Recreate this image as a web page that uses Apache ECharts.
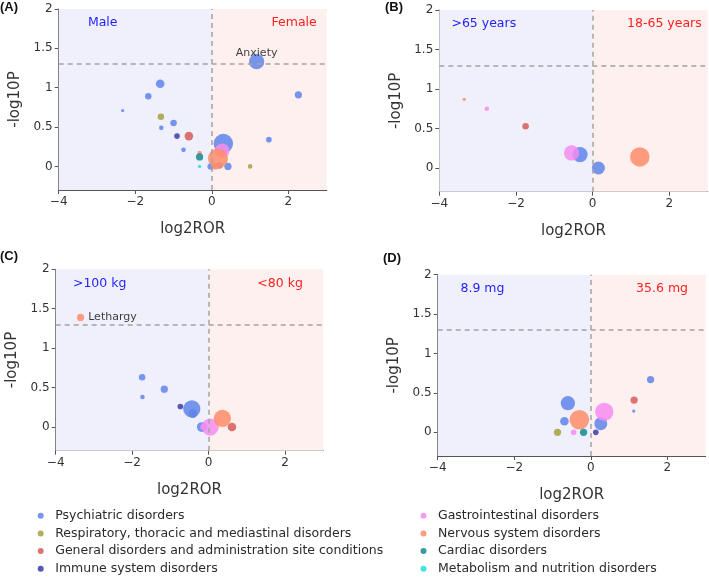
<!DOCTYPE html>
<html>
<head>
<meta charset="utf-8">
<script src="https://cdn.jsdelivr.net/npm/echarts@6/dist/echarts.min.js"></script>
<style>html,body{margin:0;padding:0;background:#fff}#c{width:709px;height:579px}</style>
</head>
<body>
<div id="c"></div>
<script>
// ---- data ----
const categories = ['Psychiatric disorders','Respiratory, thoracic and mediastinal disorders','General disorders and administration site conditions','Immune system disorders','Gastrointestinal disorders','Nervous system disorders','Cardiac disorders','Metabolism and nutrition disorders'];
const panelTags = ['(A)','(B)','(C)','(D)'];
const groupLeft = ['Male','>65 years','>100 kg','8.9 mg'];
const groupRight = ['Female','18-65 years','<80 kg','35.6 mg'];
const xTicks = [-4,-2,0,2];
const yTicks = [0,0.5,1,1.5,2];
const pThreshold = 1.301;

// Panel A (sex)
const aX   = [1.17,-1.35,-1.66,2.26,-2.33,-1.33,-1.00,-1.32,-0.91,-0.60,1.49,-0.74,-0.32,-0.32,-0.32,0.30,0.27,0.16,-0.03,0.20,0.09,0.42,1.00];
const aY   = [1.33,1.05,0.89,0.91,0.71,0.63,0.55,0.49,0.385,0.385,0.34,0.21,0.17,0.12,0.00,0.29,0.20,0.10,0.00,0.01,0.00,0.00,0.00];
const aN   = [22,7,4,5,1,4,4,2,3,7,3,2,2,5,1,36,20,38,4,4,4,5,2];
const aCat = [0,0,0,0,0,1,0,0,3,2,0,0,5,6,7,0,4,5,0,0,5,0,1];
const aLabel = ['Anxiety','','','','','','','','','','','','','','','','','','','','','',''];
// Panel B (age)
const bX   = [-3.35,-2.76,-1.75,-0.55,-0.33,0.15,1.23];
const bY   = [0.87,0.75,0.53,0.19,0.17,0.00,0.14];
const bN   = [1,2,4,22,22,16,36];
const bCat = [5,4,2,4,0,0,5];
const bLabel = ['','','','','','',''];
// Panel C (weight)
const cX   = [-3.35,-1.74,-1.16,-1.73,-0.74,-0.44,-0.41,-0.18,-0.15,0.04,0.36,0.61];
const cY   = [1.39,0.63,0.48,0.38,0.26,0.23,0.17,0.00,0.00,0.00,0.11,0.00];
const cN   = [5,4,5,2,3,28,7,9,3,28,28,7];
const cCat = [5,0,0,0,3,0,0,0,4,4,5,2];
const cLabel = ['Lethargy','','','','','','','','','','',''];
// Panel D (dose)
const dX   = [1.56,1.13,1.12,0.35,0.26,0.13,-0.19,-0.45,-0.87,-0.30,-0.60,-0.69];
const dY   = [0.67,0.41,0.27,0.26,0.11,0.00,0.00,0.00,0.00,0.16,0.37,0.14];
const dN   = [5,5,1,32,16,3,5,3,5,36,19,7];
const dCat = [0,2,0,4,0,3,6,4,1,5,0,0];
const dLabel = ['','','','','','','','','','','',''];

const panels = [
  {x:aX,y:aY,n:aN,cat:aCat,label:aLabel},
  {x:bX,y:bY,n:bN,cat:bCat,label:bLabel},
  {x:cX,y:cY,n:cN,cat:cCat,label:cLabel},
  {x:dX,y:dY,n:dN,cat:dCat,label:dLabel}
];

// ---- styles / layout ----
const colors = ['#5f84ea','#a6a23c','#d65c5c','#3c3ca8','#f48cf0','#ff8c69','#14898f','#22dede'];
const FONT = 'DejaVu Sans';
const grids = [
  {left:58.7, top:9, width:268, height:181},
  {left:439.3, top:10, width:268.4, height:181.7},
  {left:55.7, top:269.3, width:267.6, height:181.4},
  {left:437.7, top:274.7, width:268, height:181.3}
];
const tagPos = [[0,1],[385,1],[0,250],[383,252]];
const groupPosL = [-2.85,-2.84,-2.85,-2.83];
const groupPosR = [2.15,1.87,1.87,1.86];
const groupPosY = 1.82;
const labelStyles = [
  {position:'inside', offset:[0,-9], color:'#1a1a1a', fontSize:11, fontFamily:FONT, textBorderWidth:0},
  null,
  {position:'right', distance:4, color:'#1a1a1a', fontSize:11, fontFamily:FONT, textBorderWidth:0},
  null
];
const fmt = v => v < 0 ? '\u2212' + Math.abs(v) : String(v);

const option = {
  animation:false,
  backgroundColor:'#fff',
  grid: grids.map(g => Object.assign({containLabel:false, outerBoundsMode:'none'}, g)),
  xAxis: grids.map((g,i) => ({
    gridIndex:i, type:'value', min:-4, max:3,
    name:'log2ROR', nameLocation:'middle', nameGap:32,
    nameTextStyle:{fontSize:15, color:'#333', fontFamily:FONT},
    axisLine:{onZero:false, lineStyle:{color:'#555'}},
    axisTick:{length:4, customValues:xTicks, lineStyle:{color:'#555'}},
    axisLabel:{customValues:xTicks, formatter:fmt, fontSize:12, color:'#333', fontFamily:FONT, margin:6},
    splitLine:{show:false}
  })),
  yAxis: grids.map((g,i) => ({
    gridIndex:i, type:'value', min:-0.3, max:2,
    name:'-log10P', nameLocation:'middle', nameGap:36,
    nameTextStyle:{fontSize:15, color:'#333', fontFamily:FONT},
    axisLine:{show:true, onZero:false, lineStyle:{color:'#555'}},
    axisTick:{show:true, length:4, customValues:yTicks, lineStyle:{color:'#555'}},
    axisLabel:{customValues:yTicks, formatter:fmt, fontSize:12, color:'#333', fontFamily:FONT, margin:6},
    splitLine:{show:false}
  })),
  legend: [0,1].map(k => ({
    data: categories.slice(k*4, k*4+4),
    orient:'vertical', left: k===0 ? 37.7 : 420.5, top:508.7,
    padding:0, itemGap:3.7, itemWidth:6, itemHeight:6, icon:'circle',
    textStyle:{fontSize:12.5, color:'#2a2a2a', lineHeight:14, fontFamily:FONT, padding:[0,0,0,6.5]}
  })),
  graphic: panelTags.map((t,i) => ({
    type:'text', left:tagPos[i][0], top:tagPos[i][1],
    style:{text:t, font:'bold 13px "Liberation Sans", Arial, sans-serif', fill:'#111'}
  })),
  series: []
};

// background regions, reference lines and group labels
panels.forEach((p,i) => {
  option.series.push({
    type:'scatter', xAxisIndex:i, yAxisIndex:i, z:1, silent:true, symbolSize:0,
    itemStyle:{color:'rgba(0,0,0,0)'},
    data:[[groupPosL[i],groupPosY,groupLeft[i]],[groupPosR[i],groupPosY,groupRight[i]]].map((d,j) => ({
      value:[d[0],d[1]],
      label:{show:true, position:'inside', formatter:d[2], fontSize:12.5, fontFamily:FONT, opacity:1,
             textBorderWidth:0, color: j===0 ? '#1f1fff' : '#ff1f1f'}
    })),
    markArea:{silent:true, data:[
      [{xAxis:-4, yAxis:-0.3, itemStyle:{color:'#f0f0fc'}},{xAxis:0, yAxis:2}],
      [{xAxis:0, yAxis:-0.3, itemStyle:{color:'#fdf0ef'}},{xAxis:3, yAxis:2}]
    ]},
    markLine:{silent:true, symbol:'none', label:{show:false},
      lineStyle:{type:[5,4], color:'#a3a3a3', width:1.5},
      data:[{yAxis:pThreshold},{xAxis:0}]}
  });
});
// bubbles
panels.forEach((p,i) => {
  categories.forEach((name,c) => {
    const data = [];
    p.x.forEach((xv,k) => {
      if (p.cat[k] !== c) return;
      const item = {value:[xv, p.y[k], p.n[k]]};
      if (p.label[k]) item.label = Object.assign({show:true, formatter:p.label[k]}, labelStyles[i]);
      data.push(item);
    });
    option.series.push({
      type:'scatter', name, xAxisIndex:i, yAxisIndex:i, z:2,
      symbolSize: v => 3.25*Math.sqrt(v[2]),
      itemStyle:{color:colors[c], opacity:0.85},
      data
    });
  });
});

const chart = echarts.init(document.getElementById('c'), null, {renderer:'canvas'});
chart.setOption(option);
</script>
</body>
</html>
